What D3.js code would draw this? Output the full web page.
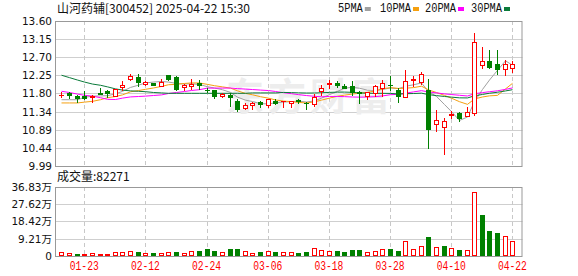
<!DOCTYPE html>
<html>
<head>
<meta charset="utf-8">
<script src="https://cdn.jsdelivr.net/npm/d3@7/dist/d3.min.js"></script>
<style>
  body { margin: 0; background: #fff; }
  svg { display: block; }
</style>
</head>
<body>
<svg id="chart" width="578" height="276"></svg>
<script>
// 山河药辅 300452 daily k-line, 2025-01-20 .. 2025-04-22
const dates = ['01-20','01-21','01-22','01-23','01-24','01-27','02-05','02-06','02-07','02-10',
  '02-11','02-12','02-13','02-14','02-17','02-18','02-19','02-20','02-21','02-24',
  '02-25','02-26','02-27','02-28','03-03','03-04','03-05','03-06','03-07','03-10',
  '03-11','03-12','03-13','03-14','03-17','03-18','03-19','03-20','03-21','03-24',
  '03-25','03-26','03-27','03-28','03-31','04-01','04-02','04-03','04-07','04-08',
  '04-09','04-10','04-11','04-14','04-15','04-16','04-17','04-18','04-21','04-22']

const opens = [11.75,11.81,11.745,11.745,11.70,11.80,11.86,11.74,11.95,12.16,
  12.20,12.04,12.06,11.99,12.26,12.20,11.96,11.97,12.05,11.89,
  11.89,11.73,11.76,11.62,11.43,11.50,11.58,11.51,11.60,11.60,
  11.57,11.64,11.57,11.54,11.85,12.02,12.06,11.99,11.97,11.83,
  11.74,11.80,11.94,12.01,11.89,11.72,12.13,12.08,11.89,11.04,
  10.95,11.26,11.30,11.23,11.31,12.51,12.60,12.54,12.41,12.44]
const highs = [11.82,11.82,11.77,11.85,11.76,11.94,11.87,11.91,12.10,12.27,
  12.27,12.10,12.06,12.16,12.26,12.22,12.04,12.16,12.12,11.93,
  11.89,11.81,11.80,11.66,11.56,11.58,11.62,11.67,11.65,11.62,
  11.62,11.66,11.58,11.79,12.00,12.12,12.11,12.04,12.10,11.86,
  11.84,12.00,12.12,12.22,11.93,12.37,12.23,12.33,12.15,11.39,
  11.19,11.37,11.34,11.47,13.29,12.96,12.87,12.87,12.62,12.60]
const lows = [11.70,11.68,11.595,11.65,11.58,11.79,11.70,11.74,11.89,12.14,
  11.99,12.00,12.01,11.97,12.13,11.88,11.89,11.91,11.90,11.83,
  11.69,11.72,11.48,11.35,11.41,11.41,11.46,11.45,11.53,11.45,
  11.46,11.55,11.41,11.48,11.75,11.94,11.96,11.93,11.77,11.57,
  11.66,11.73,11.73,11.87,11.58,11.70,11.99,12.04,10.45,10.87,
  10.30,11.19,11.12,11.23,11.26,12.43,12.43,12.27,12.25,12.33]
const closes = [11.76,11.77,11.68,11.69,11.745,11.79,11.80,11.90,12.01,12.23,
  12.07,12.08,12.01,12.08,12.16,11.90,12.01,12.03,12.00,11.88,
  11.74,11.79,11.70,11.41,11.51,11.56,11.53,11.67,11.55,11.60,
  11.61,11.60,11.55,11.70,11.93,12.06,12.00,11.94,11.82,11.81,
  11.82,11.97,12.06,12.00,11.73,12.11,12.16,12.29,10.91,11.14,
  11.10,11.28,11.19,11.34,13.07,12.60,12.45,12.40,12.52,12.53]
// volume in 手
const volumes = [19700,14400,10700,10700,14400,10700,10700,19700,19700,25000,
  23000,14400,16000,14400,19700,21300,14400,25000,27500,37400,
  26700,21300,37400,37400,26700,14200,21300,26700,21300,21300,
  21300,16000,21300,41000,32000,26700,26700,23000,32000,32000,
  21300,26700,35600,37400,26700,80000,35600,51600,101400,46300,
  53400,40900,30200,30200,342000,219000,133000,123000,105000,82271]

// moving-average values before each window fills
const ma5Head = [11.64,11.64,11.64,11.70]
const ma10Head = [11.56,11.56,11.56,11.58,11.60,11.64,11.69,11.72,11.76]
const ma20Head = [11.85,11.82,11.78,11.75,11.73,11.69,11.65,11.645,11.68,11.71,
  11.72,11.73,11.745,11.76,11.795,11.82,11.845,11.87,11.89]
const ma30Head = [12.25,12.19,12.13,12.08,12.03,12.00,11.96,11.91,11.88,11.86,
  11.85,11.84,11.82,11.81,11.80,11.80,11.80,11.80,11.80,11.80,
  11.80,11.80,11.80,11.80,11.80,11.81,11.81,11.81,11.81]

const priceTicks = [13.60,13.15,12.70,12.25,11.80,11.34,10.89,10.44,9.99]
const volTicks = [0,92100,184200,276200,368300]
const dateTicks = ['01-23','02-12','02-24','03-06','03-18','03-28','04-10','04-22']

const maNames = ['5PMA','10PMA','20PMA','30PMA']
const maColors = ['#a0a0a0','#f5a010','#ff00ff','#0a7a3a']

const RED = '#ff0000'
const GREEN = '#008000'

const svg = d3.select('#chart')
const L = 55, R = 522.5
const main = { top: 21, bottom: 166 }
const vol = { top: 187, bottom: 256 }

const x = d3.scaleBand().domain(dates).range([56.15, 517.55]).padding(0.35)
const cx = d => Math.round(x(d) + x.bandwidth() / 2)
const y = d3.scaleLinear().domain([9.99, 13.60]).range([main.bottom, main.top])
const yv = d3.scaleLinear().domain([0, 368300]).range([vol.bottom, vol.top])

const movingAvg = (head, n) => closes.map((c, i) =>
  i < n - 1 ? head[i] : d3.mean(closes.slice(i - n + 1, i + 1)))
const mas = [movingAvg(ma5Head, 5), movingAvg(ma10Head, 10), movingAvg(ma20Head, 20), movingAvg(ma30Head, 30)]

const bars = dates.map((d, i) => ({
  d, o: opens[i], h: highs[i], l: lows[i], c: closes[i], v: volumes[i],
  up: closes[i] >= opens[i],
  volUp: i === 0 ? closes[i] >= opens[i] : closes[i] >= closes[i - 1]
}))

// grid
const grid = svg.append('g')
grid.selectAll('.hg').data(priceTicks.slice(1, -1)).enter().append('line')
  .attr('x1', L).attr('x2', R)
  .attr('y1', d => Math.round(y(d)) + 0.5).attr('y2', d => Math.round(y(d)) + 0.5)
  .attr('stroke', '#cfcfcf')
grid.selectAll('.vg').data(volTicks.slice(1, -1)).enter().append('line')
  .attr('x1', L).attr('x2', R)
  .attr('y1', d => Math.round(yv(d)) + 0.5).attr('y2', d => Math.round(yv(d)) + 0.5)
  .attr('stroke', '#cfcfcf')
grid.selectAll('.dg').data(dateTicks).enter().append('g')
  .each(function (d) {
    const g = d3.select(this)
    const xx = cx(d) + 0.5
    ;[main, vol].forEach(p => g.append('line')
      .attr('x1', xx).attr('x2', xx).attr('y1', p.top).attr('y2', p.bottom)
      .attr('stroke', '#c8c8c8').attr('stroke-dasharray', '4,3'))
  })

// watermark
svg.append('text')
  .attr('x', 226).attr('y', 110)
  .style('font-family', '"Noto Sans CJK SC"').style('font-size', '38px').style('font-weight', 'bold')
  .attr('fill', '#ededed').attr('textLength', 164)
  .text('东方财富')

// frames
;[main, vol].forEach(p => svg.append('rect')
  .attr('x', L + 0.5).attr('y', p.top + 0.5)
  .attr('width', R - L - 1).attr('height', p.bottom - p.top)
  .attr('fill', 'none').attr('stroke', '#999'))

// moving averages
mas.forEach((ma, k) => {
  svg.append('path')
    .datum(ma)
    .attr('fill', 'none')
    .attr('stroke', maColors[k])
    .attr('stroke-width', 1)
    .attr('d', d3.line().x((v, i) => cx(dates[i]) + 0.5).y(v => y(v)))
})

// candles
const candle = svg.append('g').selectAll('g').data(bars).enter().append('g')
candle.append('line')
  .attr('x1', b => cx(b.d) + 0.5).attr('x2', b => cx(b.d) + 0.5)
  .attr('y1', b => Math.round(y(b.h))).attr('y2', b => Math.round(y(b.l)) + 1)
  .attr('stroke', b => b.up ? RED : GREEN)
candle.each(function (b) {
  const g = d3.select(this)
  const top = Math.round(y(Math.max(b.o, b.c)))
  const bot = Math.round(y(Math.min(b.o, b.c)))
  const h = bot - top
  if (h < 2) {
    g.append('rect').attr('x', cx(b.d) - 2).attr('y', top).attr('width', 5).attr('height', Math.max(1, h + 1))
      .attr('fill', b.up ? RED : GREEN)
  } else if (b.up) {
    g.append('rect').attr('x', cx(b.d) - 1.5).attr('y', top + 0.5).attr('width', 4).attr('height', h)
      .attr('fill', '#fff').attr('stroke', RED)
  } else {
    g.append('rect').attr('x', cx(b.d) - 2).attr('y', top).attr('width', 5).attr('height', h + 1)
      .attr('fill', GREEN)
  }
})

// volume bars
svg.append('g').selectAll('rect').data(bars).enter().append('rect')
  .each(function (b) {
    const r = d3.select(this)
    const top = Math.round(yv(b.v))
    const h = Math.max(1, vol.bottom - top)
    if (b.volUp) {
      r.attr('x', cx(b.d) - 1.5).attr('y', top + 0.5).attr('width', 4).attr('height', Math.max(0.5, h - 1))
        .attr('fill', '#fff').attr('stroke', RED)
    } else {
      r.attr('x', cx(b.d) - 2).attr('y', top).attr('width', 5).attr('height', h)
        .attr('fill', GREEN)
    }
  })

// axes
const yAxis = d3.axisLeft(y).tickValues(priceTicks).tickSize(0).tickPadding(3).tickFormat(d => d.toFixed(2))
svg.append('g').attr('transform', 'translate(' + (L - 0) + ',0)').call(yAxis)
  .call(g => g.select('.domain').remove())
  .selectAll('text').style('font-family', '"DejaVu Sans"').style('font-size', '10.5px').attr('fill', '#111')

const vAxis = d3.axisLeft(yv).tickValues(volTicks).tickSize(0).tickPadding(3)
  .tickFormat(d => d === 0 ? '0' : (d / 10000).toFixed(2) + '万')
svg.append('g').attr('transform', 'translate(' + L + ',0)').call(vAxis)
  .call(g => g.select('.domain').remove())
  .selectAll('text').style('font-family', '"DejaVu Sans", "Noto Sans CJK SC"').style('font-size', '10.5px').attr('fill', '#111')

const xAxis = d3.axisBottom(x).tickValues(dateTicks).tickSize(0).tickPadding(0)
svg.append('g').attr('transform', 'translate(0,' + (vol.bottom + 5) + ')').call(xAxis)
  .call(g => g.select('.domain').remove())
  .selectAll('text')
  .attr('fill', RED)
  .attr('textLength', 29).attr('lengthAdjust', 'spacingAndGlyphs')
  .style('font-family', '"Liberation Mono"').style('font-size', '12px')

// title
svg.append('text').attr('x', 57).attr('y', 13)
  .style('font-family', '"Noto Sans CJK SC"').style('font-size', '12px').attr('fill', '#111')
  .text('山河药辅[300452] 2025-04-22 15:30')

// legend
const legendX = [338, 380, 425, 471]
const lg = svg.append('g').selectAll('g').data(maNames).enter().append('g')
  .attr('transform', (d, i) => 'translate(' + legendX[i] + ',0)')
lg.append('text').attr('y', 12)
  .attr('textLength', d => d.length * 6.2).attr('lengthAdjust', 'spacingAndGlyphs')
  .style('font-family', '"Liberation Mono"').style('font-size', '12px').attr('fill', '#111')
  .text(d => d)
lg.append('rect').attr('x', d => d.length * 6.2 + 2).attr('y', 7).attr('width', 6).attr('height', 4)
  .attr('fill', (d, i) => maColors[i])

// volume caption
svg.append('text').attr('x', 57).attr('y', 181)
  .style('font-family', '"Noto Sans CJK SC"').style('font-size', '12px').attr('fill', '#111')
  .text('成交量:' + volumes[volumes.length - 1])
</script>
</body>
</html>
